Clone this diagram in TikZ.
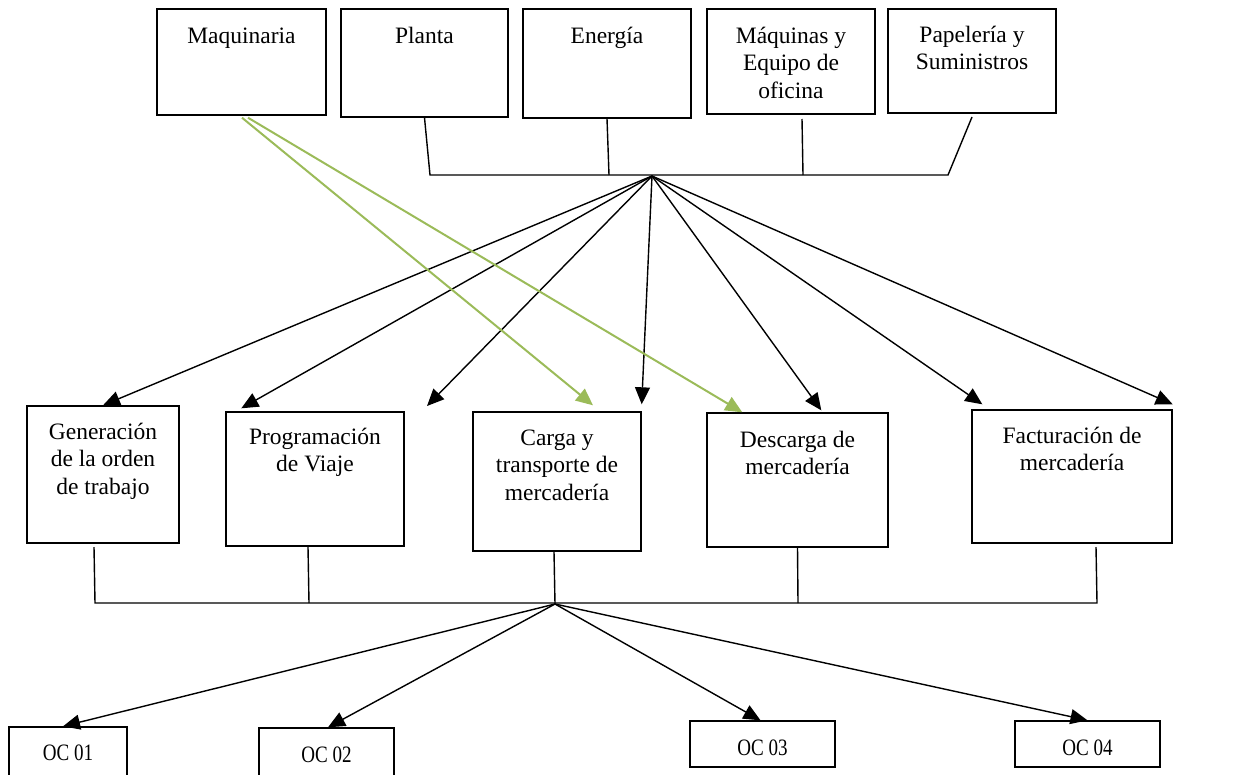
\documentclass[tikz,border=0pt]{standalone}
\usepackage{fontspec}
\usepackage{graphicx}
\setmainfont{Liberation Serif}
\usetikzlibrary{arrows.meta}
\definecolor{grn}{HTML}{9BBB59}
\begin{document}
\begin{tikzpicture}[x=1pt,y=-1pt,
  box/.style={draw=black,line width=1.4pt,inner sep=0pt,fill=white},
  lbl/.style={align=center,inner sep=0pt,anchor=north,font=\fontsize{23.5}{27.5}\selectfont},
  oclbl/.style={inner sep=0pt,anchor=base,font=\fontsize{23.5}{27.5}\selectfont},
  wire/.style={draw=black,line width=1.4pt},
  arr/.style={draw=black,line width=1.4pt,-{Triangle[length=17pt,width=15pt]}},
  garr/.style={draw=grn,line width=2pt,-{Triangle[length=17pt,width=15pt]}}]
\useasboundingbox (0,0) rectangle (1246,774);
\clip (0,0) rectangle (1246,774);
% top boxes
\node[box,minimum width=169pt,minimum height=106pt] (maq) at (241.5,62) {};
\node[box,minimum width=167pt,minimum height=108pt] (pla) at (424.5,63) {};
\node[box,minimum width=168pt,minimum height=109pt] (ene) at (607,63.5) {};
\node[box,minimum width=168pt,minimum height=105pt] (mqo) at (791,61.5) {};
\node[box,minimum width=168pt,minimum height=104pt] (pap) at (972,61) {};
\node[lbl] (maqT) at (241.5,23.75) {\strut Maquinaria};
\node[lbl] (plaT) at (424.5,23.75) {\strut Planta};
\node[lbl] (eneT) at (607,23.75) {\strut Energía};
\node[lbl] (mqoT) at (791,23.75) {\strut Máquinas y\\Equipo de\\oficina};
\node[lbl] (papT) at (972,22.75) {\strut Papelería y\\Suministros};
% middle boxes
\node[box,minimum width=152pt,minimum height=137pt] (gen) at (103,474.5) {};
\node[box,minimum width=178pt,minimum height=134pt] (prog) at (315,479) {};
\node[box,minimum width=168pt,minimum height=139pt] (carga) at (557,481.5) {};
\node[box,minimum width=181pt,minimum height=134pt] (desc) at (797.5,480) {};
\node[box,minimum width=200pt,minimum height=133pt] (fact) at (1072,476.5) {};
\node[lbl] (genT) at (103,419.75) {\strut Generación\\de la orden\\de trabajo};
\node[lbl] (progT) at (315,424.75) {\strut Programación\\de Viaje};
\node[lbl] (cargaT) at (557,425.75) {\strut Carga y\\transporte de\\mercadería};
\node[lbl] (descT) at (797.5,427.75) {\strut Descarga de\\mercadería};
\node[lbl] (factT) at (1072,423.75) {\strut Facturación de\\mercadería};
% bottom boxes
\node[box,minimum width=118pt,minimum height=63pt] (oc1) at (68,758.5) {};
\node[box,minimum width=135pt,minimum height=62pt] (oc2) at (326.5,759) {};
\node[box,minimum width=145pt,minimum height=46pt] (oc3) at (762.5,744) {};
\node[box,minimum width=145pt,minimum height=46pt] (oc4) at (1087.5,744) {};
\node[oclbl] (oc1T) at (68,760) {\scalebox{0.81}[1]{OC 01}};
\node[oclbl] (oc2T) at (326.5,762) {\scalebox{0.81}[1]{OC 02}};
\node[oclbl] (oc3T) at (762.5,755) {\scalebox{0.81}[1]{OC 03}};
\node[oclbl] (oc4T) at (1087.5,755) {\scalebox{0.81}[1]{OC 04}};
% top bracket
\coordinate (hubT) at (652,176);
\coordinate (tl) at (430,175);
\coordinate (tr) at (948,175);
\coordinate (papE) at (972,117);
\coordinate (mqoE) at (802,119);
\coordinate (mqoB) at (803,175);
\coordinate (eneB) at (609,175);
\draw[wire] (pla.south) -- (tl) -- (tr) -- (papE);
\draw[wire] (ene.south) -- (eneB);
\draw[wire] (mqoE) -- (mqoB);
% arrows from top hub
\coordinate (free) at (427,406);
\draw[arr] (hubT) -- (gen.north);
\draw[arr] (hubT) -- ([xshift=16pt,yshift=3pt]prog.north west);
\draw[arr] (hubT) -- (free);
\draw[arr] (hubT) -- ([yshift=7pt]carga.north east);
\draw[arr] (hubT) -- ([xshift=115pt,yshift=2pt]desc.north west);
\draw[arr] (hubT) -- ([xshift=11pt,yshift=5pt]fact.north west);
\draw[arr] (hubT) -- ([yshift=5pt]fact.north east);
% green arrows
\draw[garr] ([xshift=0.5pt,yshift=-2pt]maq.south) -- ([xshift=36pt,yshift=6pt]carga.north);
\draw[garr] ([xshift=6.5pt,yshift=-2pt]maq.south) -- ([xshift=36pt]desc.north west);
% bottom bracket
\coordinate (hubB) at (555,604);
\coordinate (bl) at (95,603);
\coordinate (br) at (1097,603);
\coordinate (genE) at (94,547);
\coordinate (progE) at (308,547);
\coordinate (progB) at (309,603);
\coordinate (descB) at (798,603);
\coordinate (factE) at (1096,547);
\draw[wire] (genE) -- (bl) -- (br) -- (factE);
\draw[wire] (progE) -- (progB);
\draw[wire] ([xshift=-3pt]carga.south) -- (hubB);
\draw[wire] (desc.south) -- (descB);
% arrows to OC boxes
\draw[arr] (hubB) -- ([xshift=-5pt]oc1.north);
\draw[arr] (hubB) -- ([xshift=1.5pt]oc2.north);
\draw[arr] (hubB) -- ([xshift=-2pt]oc3.north);
\draw[arr] (hubB) -- (oc4.north);
\end{tikzpicture}
\end{document}
